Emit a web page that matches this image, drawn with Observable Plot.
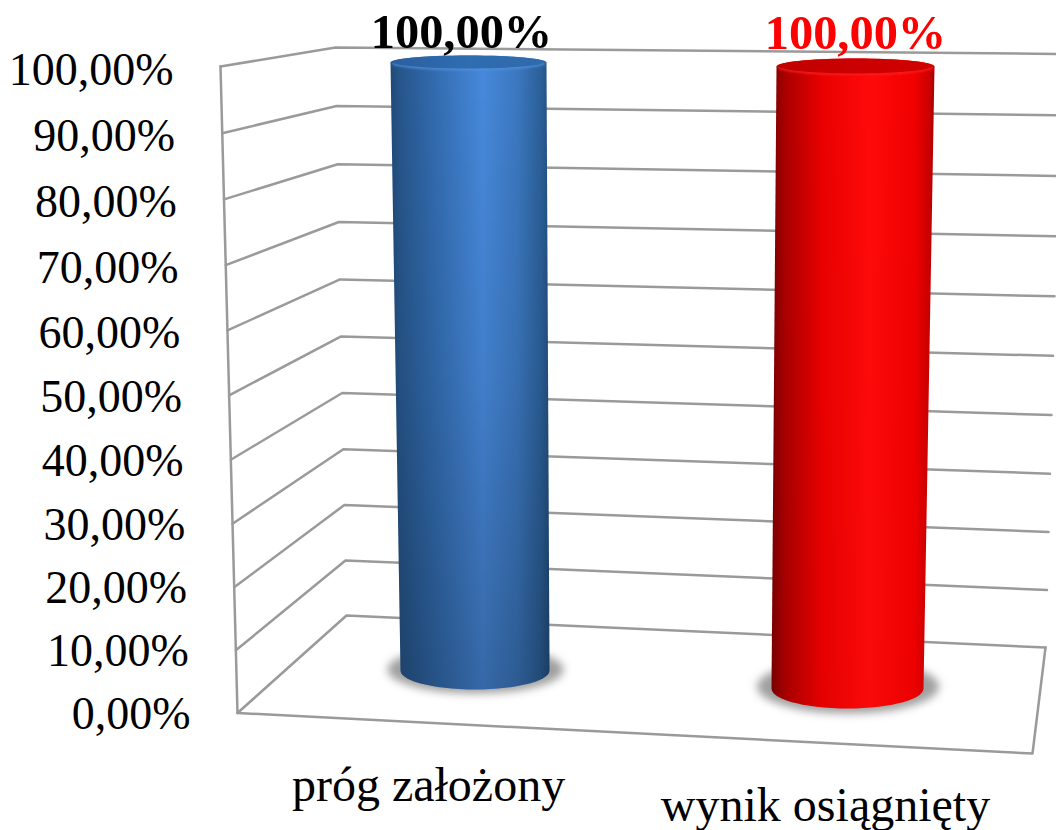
<!DOCTYPE html>
<html><head><meta charset="utf-8">
<style>html,body{margin:0;padding:0;background:#fff;overflow:hidden}svg{display:block}</style>
<script src="https://cdn.jsdelivr.net/npm/d3@7"></script>
<script src="https://cdn.jsdelivr.net/npm/@observablehq/plot@0.6"></script>
</head><body><div id="chart"></div>
<script>
const categories = ["próg założony", "wynik osiągnięty"];
const seriesValues = [100, 100];
const tickValues = [0, 10, 20, 30, 40, 50, 60, 70, 80, 90, 100];
const tickLabels = ["0,00%", "10,00%", "20,00%", "30,00%", "40,00%", "50,00%", "60,00%", "70,00%", "80,00%", "90,00%", "100,00%"];
const valueLabels = ["100,00%", "100,00%"];

// Perspective of the 3D box: value (0-100) to a projected page position.
const persp = v => { const t = v / 100; return t / (t + (1 - t) * 1.035); };
const lerp = (a, b, t) => a + (b - a) * t;
const frontLeft = v => ({x: lerp(237, 220, persp(v)), y: lerp(712.5, 66, persp(v))});
const backLeft = v => ({x: lerp(346, 335, persp(v)), y: lerp(615, 47, persp(v))});
const backRight = v => ({x: lerp(1045, 1060, v / 100), y: lerp(647, 53.5, persp(v))});
const frontRight = {x: 1032, y: 753};

const grid = tickValues.flatMap(v => [
  {v, ...frontLeft(v)}, {v, ...backLeft(v)}, {v, ...backRight(v)}
]);
const edges = [
  {k: "l", ...frontLeft(0)}, {k: "l", ...frontLeft(100)},
  {k: "f", ...frontLeft(0)}, {k: "f", ...frontRight}, {k: "f", ...backRight(0)}
];
const ticks = tickValues.map((v, i) => ({
  label: tickLabels[i],
  x: lerp(190, 173, v / 100),
  y: lerp(728, 84.5, persp(v))
}));

// Cylinder geometry per category.
const cyl = [
  {bx: 474.5, by: 670, brx: 74.5, bry: 19, tx: 468, ty: 62, trx: 78, try_: 7, sx: 475, srx: 88, sy: 669, sry: 24, side: "url(#blue)", cap: "url(#blueCap)", lip: "#4f90dc", labelX: 461, labelY: 47.7, color: "#000", catX: 428, catY: 800},
  {bx: 847, by: 688, brx: 76, bry: 20, tx: 855, ty: 66, trx: 79, try_: 8, sx: 847.5, srx: 91, sy: 686, sry: 27, side: "url(#red)", cap: "url(#redCap)", lip: "#ff2020", labelX: 855, labelY: 48, color: "#f00", catX: 825, catY: 820}
];
const angles = d3.range(0, 361, 6).map(a => a * Math.PI / 180);
const ellipse = (cx, cy, rx, ry, k) => angles.map(a => ({k, x: cx + rx * Math.cos(a), y: cy + ry * Math.sin(a)}));
const bodies = [], caps = [], lips = [], shadows = [];
cyl.forEach((c, i) => {
  const v = seriesValues[i];
  const topY = lerp(c.by, c.ty, v / 100);
  const topX = lerp(c.bx, c.tx, v / 100);
  const topR = lerp(c.brx, c.trx, v / 100);
  const bottomArc = d3.range(0, 181, 6).map(d => d * Math.PI / 180)
    .map(a => ({x: c.bx + c.brx * Math.cos(a), y: c.by + c.bry * Math.sin(a)}));
  const topArc = d3.range(180, 361, 6).map(d => d * Math.PI / 180)
    .map(a => ({x: topX + topR * Math.cos(a), y: topY + c.try_ * Math.sin(a)}));
  bodies.push([...bottomArc, ...topArc]);
  caps.push(ellipse(topX, topY - 0.5, topR - 2, c.try_ - .5, i));
  lips.push(ellipse(topX, topY + 1, topR - 1, c.try_, i));
  shadows.push(ellipse(c.sx, c.sy, c.srx, c.sry, i));
});

const grad = (id, stops, x2 = 1, y2 = 0) => {
  const g = d3.create("svg:linearGradient").attr("id", id)
    .attr("x1", 0).attr("y1", 0).attr("x2", x2).attr("y2", y2);
  stops.forEach(([o, c, op]) => g.append("stop").attr("offset", o).attr("stop-color", c).attr("stop-opacity", op ?? 1));
  return g.node();
};
const defs = () => {
  const d = d3.create("svg:defs");
  d.node().append(
    grad("blue", [[0, "#1f4a78"], [.06, "#27568c"], [.25, "#3069ab"], [.58, "#4789dc"], [.8, "#3b78c0"], [.95, "#2b5f98"], [1, "#234f80"]]),
    grad("red", [[0, "#7a0000"], [.08, "#a80000"], [.3, "#e80000"], [.6, "#ff0a0a"], [.88, "#f00000"], [.97, "#c80000"], [1, "#a80000"]]),
    grad("dim", [[0, "#000", 0], [.5, "#000", .08], [1, "#000", .24]], 0, 1),
    grad("dimRed", [[0, "#000", 0], [1, "#000", .02]], 0, 1),
    grad("blueCap", [[0, "#2b5f9f"], [.5, "#2f6db0"], [1, "#2f6aab"]]),
    grad("redCap", [[0, "#c00000"], [.5, "#cc0000"], [1, "#d00000"]])
  );
  d.append("filter").attr("id", "soft").attr("x", "-20%").attr("y", "-50%").attr("width", "140%").attr("height", "200%")
    .append("feGaussianBlur").attr("stdDeviation", 4);
  d.append("filter").attr("id", "softer").attr("x", "-20%").attr("y", "-50%").attr("width", "140%").attr("height", "200%")
    .append("feGaussianBlur").attr("stdDeviation", 1);
  return d.node();
};

const filtered = id => function (idx, sc, v, d, ctx, next) {
  const g = next(idx, sc, v, d, ctx);
  g.setAttribute("filter", `url(#${id})`);
  return g;
};
const font = "'Liberation Serif', serif";
const chart = Plot.plot({
  width: 1056, height: 830,
  marginTop: 0, marginRight: 0, marginBottom: 0, marginLeft: 0,
  x: {domain: [0, 1056], range: [0, 1056], axis: null},
  y: {domain: [0, 830], range: [0, 830], axis: null},
  style: {background: "#fff", fontFamily: font},
  marks: [
    defs,
    Plot.line(grid, {x: "x", y: "y", z: "v", stroke: "#9a9a9a", strokeWidth: 2.5}),
    Plot.line(edges, {x: "x", y: "y", z: "k", stroke: "#9a9a9a", strokeWidth: 2.5}),
    ...shadows.map(s => Plot.line(s, {x: "x", y: "y", fill: "#808080", stroke: "none", fillOpacity: .75, render: filtered("soft")})),
    ...cyl.flatMap((c, i) => [
      Plot.line(bodies[i], {x: "x", y: "y", fill: c.side, stroke: "none"}),
      Plot.line(bodies[i], {x: "x", y: "y", fill: i ? "url(#dimRed)" : "url(#dim)", stroke: "none"}),
      Plot.line(lips[i], {x: "x", y: "y", fill: c.lip, stroke: "none", fillOpacity: .75, render: filtered("softer")}),
      Plot.line(caps[i], {x: "x", y: "y", fill: c.cap, stroke: "none"})
    ]),
    Plot.text(ticks, {x: "x", y: "y", text: "label", textAnchor: "end", lineAnchor: "bottom", fontSize: 46, fill: "#000", fontFamily: font}),
    Plot.text(categories, {x: (_, i) => cyl[i].catX, y: (_, i) => cyl[i].catY, text: d => d, lineAnchor: "bottom", fontSize: 48, fill: "#000", fontFamily: font}),
    Plot.text(valueLabels, {x: (_, i) => cyl[i].labelX, y: (_, i) => lerp(cyl[i].by, cyl[i].labelY, seriesValues[i] / 100), text: d => d, lineAnchor: "bottom", fontSize: 48.4, fontWeight: "bold", fill: (_, i) => cyl[i].color, fontFamily: font})
  ]
});
document.getElementById("chart").append(chart);
</script>
</body></html>
